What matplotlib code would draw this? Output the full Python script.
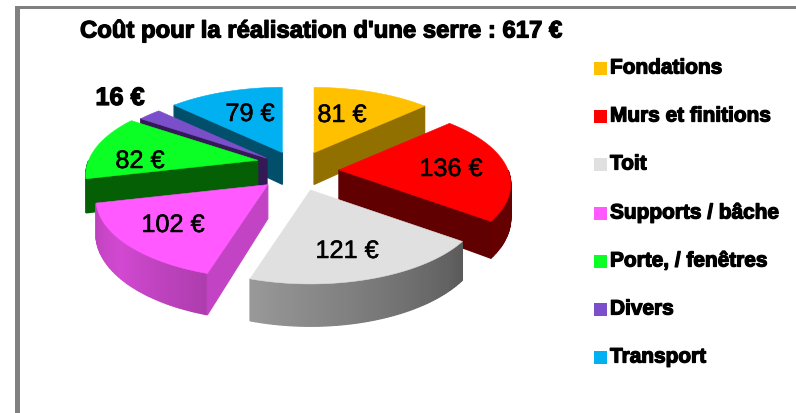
import numpy as np
import matplotlib
matplotlib.use("Agg")
import matplotlib.pyplot as plt
from matplotlib.patches import Polygon, Rectangle
import matplotlib.patheffects as pe

categories = ["Fondations", "Murs et finitions", "Toit", "Supports / bâche",
              "Porte, / fenêtres", "Divers", "Transport"]
values = [81, 136, 121, 102, 82, 16, 79]
value_labels = ["81 €", "136 €", "121 €", "102 €", "82 €", "16 €", "79 €"]
title = "Coût pour la réalisation d'une serre : 617 €"
colors = ["#FFC000", "#FF0000", "#E0E0E0", "#FF59FF", "#0CFF24", "#7B4FC9", "#00B0F0"]
side_colors = ["#927000", "#600000", "#6E6E6E", "#C244C4", "#056005", "#331A55", "#024F6C"]

# layout (pixels)
CX, CY = 298, 172
EX, EY = 40, 20
RX, RY = 169, 77
K = 0.18
DEPTH = 33
E_WORLD = 0.24
tip_nudge = [(0, 0), (1, 0), (0, 0), (-1, 0), (-1, -7), (0, 0), (0, 0)]
label_pos = [(342, 116), (451, 170), (347, 252), (173, 226), (140, 162), (120, 99), (250, 115)]
legend_y = [69, 117, 165, 214, 262, 310, 358]

plt.rcParams["font.family"] = ["Liberation Sans", "DejaVu Sans"]
fig = plt.figure(figsize=(7.96, 4.14), dpi=100)
ax = fig.add_axes([0, 0, 1, 1])
ax.set_xlim(0, 796)
ax.set_ylim(414, 0)
ax.axis("off")

ax.add_patch(Rectangle((15, 7), 5, 407, fc="#808080", ec="none"))
ax.add_patch(Rectangle((15, 7), 781, 3, fc="#808080", ec="none"))

total = sum(values)
edges = np.concatenate([[0], np.cumsum(values)]) / total * 360.0


def shade(theta):
    return np.interp(theta, [90, 126, 197, 230, 256, 270], [.38, .40, .68, .82, .75, .45])


def depth_at(yw):
    return DEPTH / (1 - K * yw)


def proj(tip, mid_y, theta):
    t = np.radians(theta)
    X, Y = np.sin(t), -np.cos(t)
    s = 1 / (1 - K * Y)
    x, y = tip[0] + RX * X * s, tip[1] + RY * Y * s
    return x, y, depth_at(mid_y * E_WORLD + Y)


def quad(p, q, color):
    ax.add_patch(Polygon([(p[0], p[1]), (q[0], q[1]), (q[0], q[1] + q[2]), (p[0], p[1] + p[2])],
                         closed=True, fc=color, ec=color, lw=0.9))


mids = (edges[:-1] + edges[1:]) / 2
order = np.argsort(-np.cos(np.radians(mids)) + 1e-3 * np.arange(len(mids)))
for i in order:
    a0, a1 = edges[i], edges[i + 1]
    m = np.radians(mids[i])
    mX, mY = np.sin(m), -np.cos(m)
    tip = (CX + EX * mX + tip_nudge[i][0], CY + EY * mY + tip_nudge[i][1])
    tip3 = (tip[0], tip[1], depth_at(mY * E_WORLD))
    base = np.array(matplotlib.colors.to_rgb(colors[i]))
    # outer wall
    thetas = np.arange(a0, a1 + 1.0, 1.0)
    thetas[-1] = min(thetas[-1], a1)
    for t0, t1 in zip(thetas[:-1], thetas[1:]):
        if np.cos(np.radians((t0 + t1) / 2)) < 0:
            quad(proj(tip, mY, t0), proj(tip, mY, t1), tuple(base * shade((t0 + t1) / 2)))
    # radial walls
    if np.sin(np.radians(a0)) < 0:
        quad(tip3, proj(tip, mY, a0), side_colors[i])
    if np.sin(np.radians(a1)) > 0:
        quad(tip3, proj(tip, mY, a1), side_colors[i])
    # top
    pts = [tip] + [proj(tip, mY, t)[:2] for t in np.linspace(a0, a1, 80)]
    ax.add_patch(Polygon(pts, closed=True, fc=colors[i], ec=colors[i], lw=0.4))

stroke = [pe.withStroke(linewidth=0.9, foreground="black")]
thin = [pe.withStroke(linewidth=0.35, foreground="black")]
for i, (x, y) in enumerate(label_pos):
    bold = value_labels[i] == "16 €"
    ax.text(x, y, value_labels[i], ha="center", va="center", fontsize=18.2, color="black",
            fontweight="bold" if bold else "normal", path_effects=stroke if bold else thin)

ax.text(80, 32, title, ha="left", va="center", fontsize=17.2, fontweight="bold",
        color="black", path_effects=stroke)

for c, name, y in zip(colors, categories, legend_y):
    ax.add_patch(Rectangle((594, y - 6.5), 13, 13, fc=c, ec="none"))
    ax.text(610, y, name, ha="left", va="center", fontsize=15, fontweight="bold",
            color="black", path_effects=stroke)

fig.savefig("out.png", dpi=100)
